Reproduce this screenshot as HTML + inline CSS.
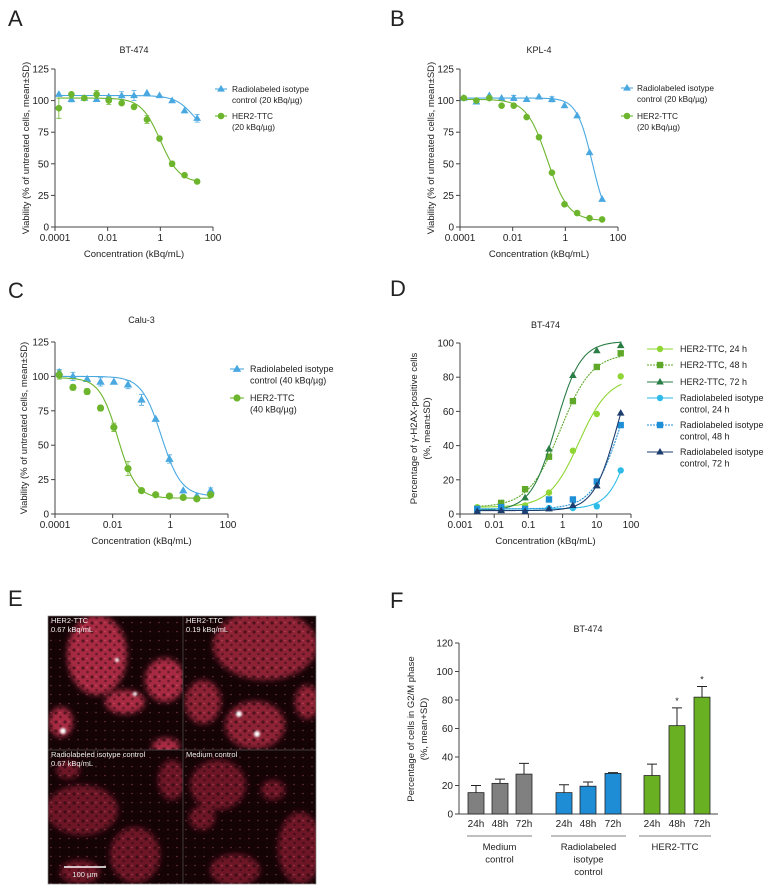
<!DOCTYPE html>
<html><head><meta charset="utf-8"><style>
html,body{margin:0;padding:0;background:#fff;}
svg{display:block;font-family:"Liberation Sans",Arial,sans-serif;}
text{fill:#222;}
#panelE text{fill:#eee;}
</style></head><body>
<svg id="fig" width="768" height="891" viewBox="0 0 768 891" xmlns="http://www.w3.org/2000/svg">
<defs>
<filter id="blur" x="-30%" y="-30%" width="160%" height="160%"><feGaussianBlur stdDeviation="3"/></filter>
<filter id="blur2" x="-30%" y="-30%" width="160%" height="160%"><feGaussianBlur stdDeviation="1"/></filter>
<pattern id="speck" width="9" height="9" patternUnits="userSpaceOnUse">
<circle cx="2" cy="2" r="1.6" fill="#1a0408" opacity="0.55"/><circle cx="6.5" cy="6" r="1.3" fill="#1a0408" opacity="0.45"/><circle cx="6" cy="1.5" r="0.8" fill="#f07a90" opacity="0.4"/>
</pattern>
<clipPath id="clipTL"><rect x="48" y="616" width="135" height="134"/></clipPath>
<clipPath id="clipTR"><rect x="183" y="616" width="133" height="134"/></clipPath>
<clipPath id="clipBL"><rect x="48" y="750" width="135" height="134"/></clipPath>
<clipPath id="clipBR"><rect x="183" y="750" width="133" height="134"/></clipPath>
</defs>
<g font-size="22">
<text x="8" y="26">A</text>
<text x="390" y="26">B</text>
<text x="8" y="298">C</text>
<text x="390" y="296">D</text>
<text x="8" y="606">E</text>
<text x="390" y="608">F</text>
</g>
<g id="panelE">
<rect x="48" y="616" width="268" height="268" fill="#140305"/>
<g clip-path="url(#clipTL)" filter="url(#blur)" fill="#a82a42">
<ellipse cx="97" cy="655" rx="30" ry="40"/><ellipse cx="125" cy="702" rx="20" ry="12"/>
<ellipse cx="165" cy="680" rx="20" ry="22"/><ellipse cx="61" cy="722" rx="12" ry="15"/>
<ellipse cx="166" cy="746" rx="14" ry="8"/>
</g>
<g clip-path="url(#clipTR)" filter="url(#blur)" fill="#8e2034">
<ellipse cx="265" cy="645" rx="52" ry="35"/><ellipse cx="203" cy="702" rx="18" ry="22"/>
<ellipse cx="255" cy="725" rx="30" ry="24"/><ellipse cx="307" cy="702" rx="12" ry="17"/>
</g>
<g clip-path="url(#clipBL)" filter="url(#blur)" fill="#6e1626">
<ellipse cx="68" cy="770" rx="12" ry="9"/><ellipse cx="172" cy="780" rx="14" ry="20"/>
<ellipse cx="82" cy="810" rx="36" ry="25"/><ellipse cx="135" cy="855" rx="25" ry="28"/>
<ellipse cx="80" cy="872" rx="20" ry="12"/>
</g>
<g clip-path="url(#clipBR)" filter="url(#blur)" fill="#6e1626">
<ellipse cx="218" cy="785" rx="28" ry="25"/><ellipse cx="273" cy="790" rx="12" ry="10"/>
<ellipse cx="202" cy="818" rx="13" ry="12"/><ellipse cx="300" cy="848" rx="22" ry="36"/>
<ellipse cx="235" cy="870" rx="25" ry="16"/>
</g>
<rect x="48" y="616" width="268" height="268" fill="url(#speck)"/>
<g filter="url(#blur2)" fill="#fff">
<circle cx="63" cy="731" r="3"/><circle cx="239" cy="714" r="3"/><circle cx="257" cy="734" r="3"/><circle cx="117" cy="660" r="2"/><circle cx="135" cy="694" r="2"/>
</g>
<line x1="183" y1="616" x2="183" y2="884" stroke="#555" stroke-width="0.7"/>
<line x1="48" y1="750" x2="316" y2="750" stroke="#555" stroke-width="0.7"/>
<rect x="48" y="616" width="268" height="268" fill="none" stroke="#888" stroke-width="0.7"/>
<g font-size="7.5">
<text x="51" y="623">HER2-TTC<tspan x="51" dy="9">0.67 kBq/mL</tspan></text>
<text x="186" y="623">HER2-TTC<tspan x="186" dy="9">0.19 kBq/mL</tspan></text>
<text x="51" y="757">Radiolabeled isotype control<tspan x="51" dy="9">0.67 kBq/mL</tspan></text>
<text x="186" y="757">Medium control</text>
<line x1="64" y1="867" x2="106" y2="867" stroke="#fff" stroke-width="1.5"/>
<text x="85" y="877" text-anchor="middle">100 µm</text>
</g>
</g>
</svg>
<script>
// ---------- DATA ----------
const concViab = [0.00014,0.00042,0.0013,0.0038,0.011,0.034,0.10,0.31,0.93,2.8,8.3,25];
const aIsoVals = [105,101,102,101,103,104,104,106,104,100,92,86];
const aIsoErr  = [1,2,1,1,1,3,4,1,1,1,1,3];
const aHerVals = [94,105,102,105,100,98,95,85,70,50,41,36];
const aHerErr  = [8,1,1,3,3,1,1,3,1,2,1,1];
const aIsoFit = [104,70,1.3,1.2];   // top, bottom, logEC50, hill
const aHerFit = [102,35,0.0,1.2];
const bIsoVals = [102,99,104,102,102,101,103,101,96,88,59,22];
const bIsoErr  = [1,1,1,1,2,1,1,2,1,1,1,1];
const bHerVals = [102,100,102,96,96,87,71,43,18,11,7,6];
const bHerErr  = [1,1,1,1,1,1,1,1,1,1,1,1];
const bIsoFit = [102,0,1.02,1.48];
const bHerFit = [101,5,-0.68,1.1];
const cIsoVals = [103,100,98,96,96,94,83,69,40,17,13,17];
const cIsoErr  = [2,3,1,3,1,3,4,1,3,1,1,2];
const cHerVals = [101,92,89,77,63,33,17,14,13,12,11,14];
const cHerErr  = [3,2,2,2,3,5,1,1,1,1,1,1];
const cIsoFit = [100,13,-0.31,1.27];
const cHerFit = [99,11.5,-1.82,1.38];
const concD = [0.0032,0.016,0.08,0.4,2,10,50];
const dHer24 = [4,3,5,12.5,37,58.5,80.5];
const dHer48 = [3,6.5,14.5,33.5,66,86,94];
const dHer72 = [1.5,3,9.5,38,81,95.5,98.5];
const dIso24 = [3,3,3,3.5,3.5,4.5,25.5];
const dIso48 = [3,4,3,8.5,8.5,19,52];
const dIso72 = [1.5,2,1.5,3,5,16.5,59];
const dFits = [[4,80,0.48,1.0],[4,94,-0.07,0.94],[2,101,-0.2,1.2],[3,100,2.11,1.28],[3,100,1.69,1.07],[2,100,1.59,1.26]]; // bottom, top, logEC50, hill
const dLabels = ["HER2-TTC, 24 h","HER2-TTC, 48 h","HER2-TTC, 72 h","Radiolabeled isotype|control, 24 h","Radiolabeled isotype|control, 48 h","Radiolabeled isotype|control, 72 h"];
const fCategories = ["24h","48h","72h","24h","48h","72h","24h","48h","72h"];
const fValues = [15,21.5,28,15,19.5,28.5,27,62,82];
const fErrors = [5,3,7.5,5.5,3,0.5,8,12.5,7.5];
const fGroups = ["Medium|control","Radiolabeled|isotype|control","HER2-TTC"];
const fSignif = [false,false,false,false,false,false,false,true,true];

const NS="http://www.w3.org/2000/svg";
const svg=document.getElementById('fig');
function el(tag,attrs,parent){const e=document.createElementNS(NS,tag);for(const k in attrs)e.setAttribute(k,attrs[k]);(parent||svg).appendChild(e);return e;}
function txt(s,x,y,size,anchor,parent,extra){const t=el('text',Object.assign({x:x,y:y,'font-size':size,'text-anchor':anchor||'start'},extra||{}),parent);t.textContent=s;return t;}
function marker(type,x,y,color,parent,r){r=r||3.4;let m;
 if(type==='circle')m=el('circle',{cx:x,cy:y,r:r,fill:color},parent);
 else if(type==='square')m=el('rect',{x:x-r,y:y-r,width:2*r,height:2*r,fill:color},parent);
 else m=el('polygon',{points:`${x},${y-r-0.8} ${x-r-0.6},${y+r*0.8} ${x+r+0.6},${y+r*0.8}`,fill:color},parent);
 return m;}

// ---------- DOSE-RESPONSE PANELS ----------
function dosePanel(o){
 const g=el('g',{});
 
 
 const sx=v=>o.x0+(Math.log10(v)-o.dMin)/(o.dMax-o.dMin)*(o.x1-o.x0);
 const sy=v=>o.yb-(v/o.yMax)*(o.yb-o.yt);
 const ax=el('path',{d:`M${o.x0},${o.yt} V${o.yb} H${o.x1}`,stroke:'#444',fill:'none','stroke-width':1},g);
 
 
 o.yTicks.forEach(v=>{el('line',{x1:o.x0-4,x2:o.x0,y1:sy(v),y2:sy(v),stroke:'#444'},g);
  const t=txt(String(v),o.x0-6,sy(v)+3.5,10,'end',g);
  
  });
 o.xTicks.forEach((v,i)=>{el('line',{x1:sx(v),x2:sx(v),y1:o.yb,y2:o.yb+4,stroke:'#444'},g);
  const t=txt(o.xTickLabels[i],sx(v),o.yb+14,10,'middle',g);
  
  });
 const tt=txt(o.title,(o.x0+o.x1)/2,o.titleY,9,'middle',g);
 
 
 const xt=txt('Concentration (kBq/mL)',(o.x0+o.x1)/2,o.yb+30,9.5,'middle',g);
 
 
 const yl=o.yLabel.split('|');
 yl.forEach((s,i)=>{const cy=(o.yt+o.yb)/2;const xx=o.yLabelX+i*13;
  const t=txt(s,xx,cy,9.5,'middle',g,{transform:`rotate(-90 ${xx} ${cy})`});
  
  });
 o.series.forEach((s,si)=>{
  const sg=el('g',{},g);
  
  
  let d='';const lo=Math.log10(o.xData[0])-0.05, hi=Math.log10(o.xData[o.xData.length-1])+0.02;
  for(let k=0;k<=100;k++){const lx=lo+(hi-lo)*k/100;const v=s.model(lx);d+=(k?'L':'M')+sx(Math.pow(10,lx)).toFixed(1)+','+sy(v).toFixed(1);}
  const c=el('path',{d:d,fill:'none',stroke:s.color,'stroke-width':1.1,'stroke-dasharray':s.dash||'none'},sg);
  
  
  s.vals.forEach((v,i)=>{const x=sx(o.xData[i]),y=sy(v);
   if(s.errs&&s.errs[i]>1.2){const e=el('path',{d:`M${x},${sy(v-s.errs[i])}V${sy(v+s.errs[i])}M${x-2.5},${sy(v+s.errs[i])}h5M${x-2.5},${sy(v-s.errs[i])}h5`,stroke:s.color,fill:'none','stroke-width':0.8},sg);
    
    }
   const m=marker(s.marker,x,y,s.color,sg,o.mr);
   
   });
  const lg=el('g',{},g);
  
  
  const ly=o.legY[si];
  el('line',{x1:o.legX-(o.legHalf||6),x2:o.legX+(o.legHalf||6),y1:ly,y2:ly,stroke:s.color,'stroke-width':1.1,'stroke-dasharray':s.dash||'none'},lg);
  marker(s.marker,o.legX,ly,s.color,lg,o.mr);
  s.label.split('|').forEach((l,li)=>txt(l,o.legTextX,ly+3+li*o.legLH,o.legFS,'start',lg));
 });
}
const logistic=(p)=>lx=>p[1]+(p[0]-p[1])/(1+Math.pow(10,p[3]*(lx-p[2])));
const logisticD=(p)=>lx=>p[0]+(p[1]-p[0])/(1+Math.pow(10,p[3]*(p[2]-lx)));
const BLUE='#4aa8e0',GREEN='#6cb52d';
const yT=[0,25,50,75,100,125];
const xT=[0.0001,0.01,1,100], xTL=['0.0001','0.01','1','100'];
const common={dMin:-4,dMax:2,yMax:125,yTicks:yT,xTicks:xT,xTickLabels:xTL,xData:concViab,legLH:11,legFS:8.3,mr:3.3};
dosePanel(Object.assign({},common,{name:'chart-a-bt474',x0:55,x1:213,yt:69,yb:227,title:'BT-474',titleY:53,yLabel:'Viability (% of untreated cells, mean±SD)',yLabelX:29,
 legX:221,legTextX:232,legY:[89,116],
 series:[{key:'isotype',vals:aIsoVals,errs:aIsoErr,model:logistic(aIsoFit),color:BLUE,marker:'tri',label:'Radiolabeled isotype|control (20 kBq/µg)'},
         {key:'her2-ttc',vals:aHerVals,errs:aHerErr,model:logistic(aHerFit),color:GREEN,marker:'circle',label:'HER2-TTC|(20 kBq/µg)'}]}));
dosePanel(Object.assign({},common,{name:'chart-b-kpl4',x0:460,x1:618,yt:69,yb:227,title:'KPL-4',titleY:53,yLabel:'Viability (% of untreated cells, mean±SD)',yLabelX:434,
 legX:627,legTextX:637,legY:[88,116],
 series:[{key:'isotype',vals:bIsoVals,errs:bIsoErr,model:logistic(bIsoFit),color:BLUE,marker:'tri',label:'Radiolabeled isotype|control (20 kBq/µg)'},
         {key:'her2-ttc',vals:bHerVals,errs:bHerErr,model:logistic(bHerFit),color:GREEN,marker:'circle',label:'HER2-TTC|(20 kBq/µg)'}]}));
dosePanel(Object.assign({},common,{name:'chart-c-calu3',x0:55,x1:228,yt:342,yb:514,title:'Calu-3',titleY:323,yLabel:'Viability (% of untreated cells, mean±SD)',yLabelX:27,
 legX:237,legTextX:250,legY:[369,398],legLH:11.5,legFS:9,legHalf:7,mr:3.6,
 series:[{key:'isotype',vals:cIsoVals,errs:cIsoErr,model:logistic(cIsoFit),color:BLUE,marker:'tri',label:'Radiolabeled isotype|control (40 kBq/µg)'},
         {key:'her2-ttc',vals:cHerVals,errs:cHerErr,model:logistic(cHerFit),color:GREEN,marker:'circle',label:'HER2-TTC|(40 kBq/µg)'}]}));
const dColors=['#8fd634','#5fa82a','#2a7d45','#2ebbe8','#1f8fd6','#1c3d6e'];
const dMarkers=['circle','square','tri','circle','square','tri'];
const dVals=[dHer24,dHer48,dHer72,dIso24,dIso48,dIso72];
const dKeys=['her2-24h','her2-48h','her2-72h','isotype-24h','isotype-48h','isotype-72h'];
dosePanel({name:'chart-d-gh2ax',x0:460,x1:631,yt:343,yb:514,dMin:-3,dMax:2,yMax:100,yTicks:[0,20,40,60,80,100],
 xTicks:[0.001,0.01,0.1,1,10,100],xTickLabels:['0.001','0.01','0.1','1','10','100'],xData:concD,title:'BT-474',titleY:328,
 yLabel:'Percentage of γ-H2AX-positive cells|(%, mean±SD)',yLabelX:417,legX:660,legHalf:13,legTextX:680,legY:[349,365,382,398,425,452],legLH:11.5,legFS:9,mr:3.2,
 series:dVals.map((v,i)=>({key:dKeys[i],vals:v,errs:null,model:logisticD(dFits[i]),color:dColors[i],marker:dMarkers[i],label:dLabels[i],dash:(i===1||i===4)?'2,1':null}))});

// ---------- BAR CHART F ----------
(function(){
 const g=el('g',{});
 
 
 const x0=459,x1=718,yt=643,yb=814,yMax=120;
 const sy=v=>yb-v/yMax*(yb-yt);
 const centers=[476,500,524,564,588,613,652,677,702];
 const colors=['#808080','#808080','#808080','#1f8dd6','#1f8dd6','#1f8dd6','#6ab023','#6ab023','#6ab023'];
 const ax=el('path',{d:`M${x0},${yt} V${yb} H${x1}`,stroke:'#444',fill:'none'},g);
 
 
 [0,20,40,60,80,100,120].forEach(v=>{el('line',{x1:x0-4,x2:x0,y1:sy(v),y2:sy(v),stroke:'#444'},g);
  const t=txt(String(v),x0-6,sy(v)+3.5,10,'end',g);
  
  });
 const tt=txt('BT-474',588,632,9,'middle',g);
 
 
 ['Percentage of cells in G2/M phase','(%, mean+SD)'].forEach((s,i)=>{const xx=414+i*13,cy=729;
  const t=txt(s,xx,cy,9.5,'middle',g,{transform:`rotate(-90 ${xx} ${cy})`});
  
  });
 fValues.forEach((v,i)=>{const cx=centers[i],w=16;
  const e=el('path',{d:`M${cx},${sy(v)}V${sy(v+fErrors[i])}M${cx-5},${sy(v+fErrors[i])}h10`,stroke:'#222',fill:'none','stroke-width':1},g);
  
  
  const b=el('rect',{x:cx-w/2,y:sy(v),width:w,height:yb-sy(v),fill:colors[i],stroke:'#222','stroke-width':0.8},g);
  
  
  const l=txt(fCategories[i],cx,yb+13,10,'middle',g);
  
  
  if(fSignif[i]){const s=txt('*',cx,sy(v+fErrors[i])-4,9,'middle',g);
   
   }
 });
 const gl=[[467,532],[551,626],[639,711]];
 fGroups.forEach((s,i)=>{
  const ln=el('line',{x1:gl[i][0],x2:gl[i][1],y1:836,y2:836,stroke:'#aaa','stroke-width':1.6},g);
  
  
  s.split('|').forEach((p,j)=>{const t=txt(p,(gl[i][0]+gl[i][1])/2,850+j*12.5,9.5,'middle',g);
   
   });
 });
})();
</script>
</body></html>
